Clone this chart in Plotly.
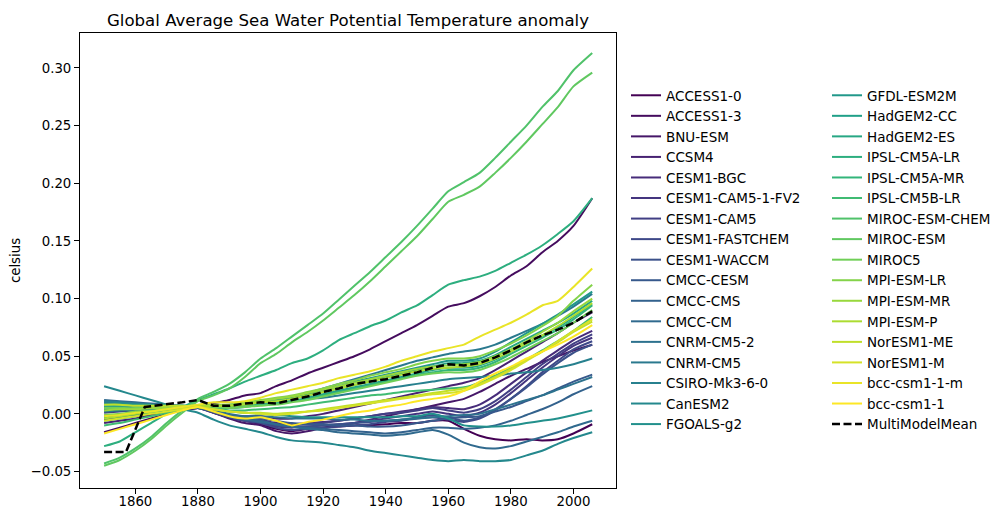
import plotly.graph_objects as go
from plotly.colors import sample_colorscale

# ---------------- data ----------------
YEARS = [1850, 1855, 1860, 1865, 1870, 1875, 1880, 1885, 1890, 1895, 1900, 1905, 1910, 1915, 1920, 1925,
         1930, 1935, 1940, 1945, 1950, 1955, 1960, 1965, 1970, 1975, 1980, 1985, 1990, 1995, 2000, 2006]

MODEL_NAMES = ["ACCESS1-0", "ACCESS1-3", "BNU-ESM", "CCSM4", "CESM1-BGC", "CESM1-CAM5-1-FV2", "CESM1-CAM5",
               "CESM1-FASTCHEM", "CESM1-WACCM", "CMCC-CESM", "CMCC-CMS", "CMCC-CM", "CNRM-CM5-2", "CNRM-CM5",
               "CSIRO-Mk3-6-0", "CanESM2", "FGOALS-g2", "GFDL-ESM2M", "HadGEM2-CC", "HadGEM2-ES",
               "IPSL-CM5A-LR", "IPSL-CM5A-MR", "IPSL-CM5B-LR", "MIROC-ESM-CHEM", "MIROC-ESM", "MIROC5",
               "MPI-ESM-LR", "MPI-ESM-MR", "MPI-ESM-P", "NorESM1-ME", "NorESM1-M", "bcc-csm1-1-m", "bcc-csm1-1"]

ACCESS1_0 = [-0.005, -0.003, -0.001, 0.001, 0.003, 0.004, 0.005, 0.001, -0.003, -0.006, -0.009, -0.013, -0.015, -0.013, -0.012, -0.011,
             -0.010, -0.010, -0.009, -0.008, -0.008, -0.006, -0.006, -0.013, -0.019, -0.022, -0.023, -0.022, -0.023, -0.022, -0.017, -0.009]
ACCESS1_3 = [-0.016, -0.012, -0.008, -0.004, 0.000, 0.003, 0.005, 0.009, 0.012, 0.016, 0.018, 0.024, 0.029, 0.035, 0.040, 0.045,
             0.050, 0.056, 0.063, 0.070, 0.077, 0.085, 0.093, 0.096, 0.102, 0.110, 0.120, 0.128, 0.140, 0.150, 0.163, 0.187]
BNU_ESM = [0.006, 0.006, 0.006, 0.006, 0.006, 0.006, 0.006, 0.001, -0.004, -0.008, -0.010, -0.015, -0.017, -0.015, -0.012, -0.010,
           -0.008, -0.005, -0.002, 0.001, 0.004, 0.007, 0.010, 0.013, 0.019, 0.026, 0.033, 0.039, 0.045, 0.050, 0.055, 0.060]
CCSM4 = [-0.008, -0.006, -0.004, -0.001, 0.001, 0.003, 0.005, 0.002, -0.001, -0.002, -0.002, -0.004, -0.004, -0.002, 0.000, 0.003,
         0.006, 0.009, 0.012, 0.015, 0.018, 0.021, 0.024, 0.027, 0.031, 0.038, 0.046, 0.054, 0.062, 0.070, 0.079, 0.088]
CESM1_BGC = [0.003, 0.003, 0.004, 0.004, 0.005, 0.005, 0.006, 0.002, -0.002, -0.004, -0.005, -0.008, -0.009, -0.008, -0.007, -0.006,
             -0.004, -0.002, 0.000, 0.002, 0.004, 0.006, 0.005, 0.004, 0.008, 0.016, 0.026, 0.036, 0.046, 0.055, 0.064, 0.072]
CESM1_CAM5_1_FV2 = [-0.002, -0.001, 0.001, 0.002, 0.003, 0.005, 0.006, 0.002, -0.003, -0.006, -0.008, -0.011, -0.012, -0.011, -0.010, -0.009,
                    -0.008, -0.006, -0.004, -0.002, 0.000, 0.002, 0.000, -0.002, 0.001, 0.008, 0.018, 0.029, 0.040, 0.050, 0.059, 0.066]
CESM1_CAM5 = [0.001, 0.002, 0.003, 0.004, 0.005, 0.005, 0.006, 0.003, -0.001, -0.004, -0.006, -0.009, -0.010, -0.009, -0.008, -0.006,
              -0.004, -0.002, 0.000, 0.001, 0.003, 0.005, 0.003, 0.001, 0.004, 0.011, 0.021, 0.032, 0.043, 0.052, 0.061, 0.069]
CESM1_FASTCHEM = [-0.004, -0.003, -0.001, 0.001, 0.003, 0.004, 0.005, 0.001, -0.003, -0.006, -0.008, -0.012, -0.014, -0.013, -0.012, -0.011,
                  -0.010, -0.009, -0.007, -0.006, -0.004, -0.003, -0.005, -0.007, -0.004, 0.003, 0.013, 0.024, 0.036, 0.046, 0.056, 0.063]
CESM1_WACCM = [0.004, 0.004, 0.005, 0.005, 0.005, 0.006, 0.006, 0.002, -0.002, -0.005, -0.007, -0.010, -0.011, -0.011, -0.010, -0.009,
               -0.008, -0.007, -0.006, -0.005, -0.003, -0.001, -0.003, -0.006, -0.003, 0.004, 0.013, 0.023, 0.034, 0.044, 0.053, 0.060]
CMCC_CESM = [0.010, 0.009, 0.008, 0.007, 0.006, 0.006, 0.005, 0.002, -0.001, -0.003, -0.004, -0.006, -0.008, -0.009, -0.009, -0.010,
             -0.010, -0.011, -0.011, -0.010, -0.008, -0.006, -0.004, -0.003, -0.002, 0.002, 0.006, 0.011, 0.016, 0.022, 0.028, 0.034]
CMCC_CMS = [0.008, 0.008, 0.007, 0.007, 0.006, 0.006, 0.005, 0.002, -0.002, -0.004, -0.006, -0.009, -0.011, -0.012, -0.013, -0.014,
            -0.015, -0.016, -0.017, -0.016, -0.014, -0.012, -0.012, -0.013, -0.012, -0.010, -0.006, -0.001, 0.004, 0.010, 0.017, 0.024]
CMCC_CM = [0.012, 0.011, 0.010, 0.009, 0.008, 0.007, 0.006, 0.002, -0.002, -0.005, -0.007, -0.009, -0.011, -0.013, -0.014, -0.016,
           -0.017, -0.018, -0.019, -0.018, -0.016, -0.014, -0.018, -0.025, -0.029, -0.030, -0.028, -0.024, -0.020, -0.016, -0.011, -0.006]
CNRM_CM5_2 = [0.006, 0.006, 0.006, 0.006, 0.006, 0.006, 0.006, 0.003, 0.000, -0.002, -0.002, -0.003, -0.004, -0.004, -0.004, -0.005,
              -0.005, -0.006, -0.006, -0.005, -0.004, -0.003, -0.002, -0.001, 0.000, 0.004, 0.008, 0.012, 0.016, 0.021, 0.026, 0.032]
CNRM_CM5 = [0.002, 0.003, 0.003, 0.004, 0.005, 0.006, 0.007, 0.007, 0.007, 0.008, 0.010, 0.012, 0.015, 0.018, 0.022, 0.026,
            0.030, 0.034, 0.038, 0.042, 0.046, 0.049, 0.052, 0.054, 0.056, 0.060, 0.066, 0.072, 0.078, 0.085, 0.093, 0.104]
CSIRO_MK3_6_0 = [0.011, 0.010, 0.009, 0.008, 0.007, 0.007, 0.006, 0.006, 0.006, 0.007, 0.008, 0.009, 0.011, 0.013, 0.014, 0.016,
                 0.018, 0.020, 0.022, 0.024, 0.026, 0.028, 0.030, 0.031, 0.032, 0.033, 0.035, 0.036, 0.038, 0.040, 0.043, 0.048]
CANESM2 = [0.024, 0.020, 0.016, 0.012, 0.008, 0.004, 0.001, -0.005, -0.010, -0.013, -0.016, -0.020, -0.023, -0.024, -0.025, -0.027,
           -0.029, -0.032, -0.034, -0.036, -0.038, -0.040, -0.041, -0.040, -0.041, -0.041, -0.040, -0.036, -0.032, -0.026, -0.021, -0.016]
FGOALS_G2 = [0.009, 0.009, 0.008, 0.008, 0.007, 0.007, 0.006, 0.004, 0.002, 0.001, 0.000, -0.001, -0.002, -0.003, -0.003, -0.003,
             -0.003, -0.003, -0.003, -0.002, -0.002, 0.000, -0.004, -0.010, -0.011, -0.011, -0.010, -0.008, -0.006, -0.004, -0.001, 0.003]
GFDL_ESM2M = [0.004, 0.004, 0.005, 0.005, 0.006, 0.006, 0.007, 0.007, 0.008, 0.009, 0.011, 0.012, 0.014, 0.017, 0.021, 0.024,
              0.028, 0.031, 0.034, 0.037, 0.040, 0.043, 0.046, 0.046, 0.048, 0.054, 0.062, 0.070, 0.078, 0.086, 0.095, 0.106]
HADGEM2_CC = [-0.003, -0.002, 0.000, 0.002, 0.003, 0.005, 0.006, 0.005, 0.005, 0.006, 0.008, 0.009, 0.011, 0.014, 0.017, 0.020,
              0.023, 0.026, 0.029, 0.032, 0.035, 0.038, 0.040, 0.040, 0.042, 0.047, 0.054, 0.061, 0.068, 0.075, 0.084, 0.095]
HADGEM2_ES = [-0.006, -0.004, -0.002, 0.001, 0.003, 0.005, 0.007, 0.007, 0.007, 0.008, 0.010, 0.011, 0.013, 0.016, 0.019, 0.022,
              0.025, 0.028, 0.032, 0.035, 0.038, 0.041, 0.044, 0.044, 0.046, 0.051, 0.058, 0.065, 0.072, 0.079, 0.087, 0.098]
IPSL_CM5A_LR = [-0.028, -0.024, -0.016, -0.008, 0.000, 0.006, 0.012, 0.017, 0.022, 0.028, 0.033, 0.038, 0.044, 0.048, 0.055, 0.064,
                0.070, 0.076, 0.081, 0.088, 0.094, 0.103, 0.112, 0.116, 0.119, 0.124, 0.131, 0.138, 0.146, 0.156, 0.167, 0.187]
IPSL_CM5A_MR = [0.007, 0.007, 0.007, 0.007, 0.007, 0.007, 0.007, 0.006, 0.006, 0.007, 0.008, 0.009, 0.011, 0.013, 0.016, 0.019,
                0.022, 0.025, 0.028, 0.031, 0.034, 0.036, 0.038, 0.038, 0.040, 0.045, 0.052, 0.059, 0.066, 0.073, 0.082, 0.094]
IPSL_CM5B_LR = [-0.010, -0.008, -0.005, -0.002, 0.001, 0.004, 0.006, 0.005, 0.003, 0.003, 0.004, 0.005, 0.006, 0.008, 0.010, 0.012,
                0.014, 0.016, 0.017, 0.019, 0.020, 0.021, 0.022, 0.023, 0.027, 0.033, 0.040, 0.047, 0.055, 0.063, 0.072, 0.084]
MIROC_ESM_CHEM = [-0.043, -0.038, -0.030, -0.020, -0.008, 0.003, 0.013, 0.019, 0.026, 0.036, 0.048, 0.057, 0.067, 0.077, 0.087, 0.099,
                  0.111, 0.123, 0.136, 0.149, 0.163, 0.178, 0.193, 0.201, 0.209, 0.222, 0.236, 0.250, 0.266, 0.280, 0.298, 0.313]
MIROC_ESM = [-0.045, -0.040, -0.032, -0.022, -0.010, 0.001, 0.011, 0.016, 0.022, 0.032, 0.044, 0.052, 0.062, 0.071, 0.081, 0.092,
             0.103, 0.115, 0.128, 0.141, 0.154, 0.169, 0.184, 0.190, 0.197, 0.209, 0.222, 0.236, 0.251, 0.266, 0.284, 0.296]
MIROC5 = [0.005, 0.005, 0.005, 0.006, 0.006, 0.006, 0.007, 0.006, 0.005, 0.006, 0.007, 0.008, 0.010, 0.012, 0.015, 0.018,
          0.021, 0.024, 0.027, 0.030, 0.033, 0.035, 0.036, 0.036, 0.038, 0.043, 0.049, 0.056, 0.063, 0.070, 0.079, 0.090]
MPI_ESM_LR = [-0.001, 0.000, 0.002, 0.003, 0.004, 0.006, 0.007, 0.008, 0.008, 0.010, 0.012, 0.014, 0.016, 0.019, 0.022, 0.026,
              0.029, 0.033, 0.036, 0.039, 0.043, 0.046, 0.048, 0.048, 0.050, 0.055, 0.061, 0.068, 0.076, 0.085, 0.098, 0.112]
MPI_ESM_MR = [0.003, 0.004, 0.004, 0.005, 0.005, 0.006, 0.007, 0.007, 0.007, 0.009, 0.011, 0.013, 0.015, 0.018, 0.021, 0.024,
              0.027, 0.030, 0.033, 0.036, 0.039, 0.041, 0.042, 0.043, 0.045, 0.050, 0.056, 0.063, 0.071, 0.079, 0.089, 0.100]
MPI_ESM_P = [-0.004, -0.002, 0.000, 0.002, 0.004, 0.005, 0.007, 0.007, 0.007, 0.008, 0.010, 0.011, 0.013, 0.016, 0.019, 0.022,
             0.025, 0.028, 0.031, 0.034, 0.037, 0.039, 0.040, 0.041, 0.043, 0.048, 0.054, 0.061, 0.068, 0.076, 0.085, 0.096]
NORESM1_ME = [0.008, 0.008, 0.007, 0.007, 0.007, 0.007, 0.006, 0.004, 0.002, 0.001, 0.001, 0.000, 0.001, 0.002, 0.004, 0.006,
              0.008, 0.010, 0.012, 0.014, 0.016, 0.018, 0.020, 0.022, 0.026, 0.032, 0.039, 0.047, 0.054, 0.062, 0.071, 0.080]
NORESM1_M = [-0.006, -0.004, -0.002, 0.000, 0.002, 0.004, 0.006, 0.004, 0.002, 0.001, 0.000, -0.001, 0.000, 0.002, 0.003, 0.005,
             0.007, 0.009, 0.011, 0.013, 0.015, 0.017, 0.018, 0.020, 0.025, 0.031, 0.038, 0.046, 0.054, 0.063, 0.072, 0.082]
BCC_CSM1_1_M = [-0.002, -0.001, 0.001, 0.002, 0.004, 0.006, 0.008, 0.010, 0.010, 0.011, 0.014, 0.018, 0.021, 0.024, 0.027, 0.031,
                0.034, 0.037, 0.041, 0.046, 0.050, 0.054, 0.057, 0.060, 0.067, 0.073, 0.079, 0.086, 0.094, 0.098, 0.110, 0.126]
BCC_CSM1_1 = [-0.017, -0.013, -0.009, -0.005, -0.001, 0.003, 0.006, 0.002, -0.002, -0.004, -0.003, -0.006, -0.010, -0.007, -0.005, -0.002,
              0.001, 0.003, 0.006, 0.008, 0.011, 0.013, 0.015, 0.020, 0.028, 0.035, 0.041, 0.048, 0.054, 0.060, 0.067, 0.077]

MEAN_YEARS = [1850, 1857, 1863, 1870, 1875, 1880, 1885, 1890, 1895, 1900, 1905, 1910, 1915, 1920, 1925, 1930,
              1935, 1940, 1945, 1950, 1955, 1960, 1965, 1970, 1975, 1980, 1985, 1990, 1995, 2000, 2006]
MULTI_MODEL_MEAN = [-0.033, -0.033, 0.006, 0.008, 0.010, 0.012, 0.007, 0.007, 0.009, 0.010, 0.009, 0.012, 0.015, 0.019, 0.022, 0.026,
                    0.028, 0.030, 0.033, 0.036, 0.040, 0.043, 0.042, 0.044, 0.049, 0.055, 0.062, 0.068, 0.073, 0.079, 0.089]

SERIES = [ACCESS1_0, ACCESS1_3, BNU_ESM, CCSM4, CESM1_BGC, CESM1_CAM5_1_FV2, CESM1_CAM5, CESM1_FASTCHEM,
          CESM1_WACCM, CMCC_CESM, CMCC_CMS, CMCC_CM, CNRM_CM5_2, CNRM_CM5, CSIRO_MK3_6_0, CANESM2, FGOALS_G2,
          GFDL_ESM2M, HADGEM2_CC, HADGEM2_ES, IPSL_CM5A_LR, IPSL_CM5A_MR, IPSL_CM5B_LR, MIROC_ESM_CHEM,
          MIROC_ESM, MIROC5, MPI_ESM_LR, MPI_ESM_MR, MPI_ESM_P, NORESM1_ME, NORESM1_M, BCC_CSM1_1_M, BCC_CSM1_1]

X_TICKS = [1860, 1880, 1900, 1920, 1940, 1960, 1980, 2000]
Y_TICKS = [-0.05, 0.00, 0.05, 0.10, 0.15, 0.20, 0.25, 0.30]

# ---------------- styling ----------------
FONT = "DejaVu Sans"
n = len(MODEL_NAMES)
colors = sample_colorscale("Viridis", [i / (n - 1) for i in range(n)])

fig = go.Figure()
for i, (name, vals) in enumerate(zip(MODEL_NAMES, SERIES)):
    fig.add_trace(go.Scatter(
        x=YEARS, y=vals, name=name, mode="lines",
        line=dict(color=colors[i], width=2, shape="spline", smoothing=0.6),
        legend="legend" if i < 17 else "legend2",
    ))

fig.add_trace(go.Scatter(
    x=MEAN_YEARS, y=MULTI_MODEL_MEAN, name="MultiModelMean", mode="lines",
    line=dict(color="black", width=2.5, dash="8px,3.5px"),
    legend="legend2",
))

axis_common = dict(
    showline=True, linecolor="black", linewidth=1, mirror=True,
    ticks="outside", ticklen=5, tickwidth=1, tickcolor="black",
    showgrid=False, zeroline=False, automargin=False,
    tickfont=dict(family=FONT, size=13.3, color="black"),
)

legend_common = dict(
    font=dict(family=FONT, size=13.5, color="black"),
    bgcolor="rgba(0,0,0,0)", borderwidth=0,
    xanchor="left", yanchor="top", orientation="v",
    tracegroupgap=0,
)

fig.update_layout(
    width=995, height=510,
    margin=dict(l=80, r=379, t=33, b=22, autoexpand=False),
    paper_bgcolor="white", plot_bgcolor="white",
    title=dict(text="Global Average Sea Water Potential Temperature anomaly",
               font=dict(family=FONT, size=16.6, color="black"),
               x=0.5, xref="paper", xanchor="center", y=1 - 20 / 510, yanchor="middle"),
    xaxis=dict(range=[1842.3, 2013.6], tickvals=X_TICKS, ticklabelstandoff=-4, **axis_common),
    yaxis=dict(range=[-0.0643, 0.3303], tickvals=Y_TICKS, tickformat=".2f",
               title=dict(text="celsius", font=dict(family=FONT, size=13.3, color="black"), standoff=6),
               **axis_common),
    showlegend=True,
    legend=dict(x=(626 - 80) / 536, y=1 - (80 - 33) / 455, **legend_common),
    legend2=dict(x=(827 - 80) / 536, y=1 - (80 - 33) / 455, **legend_common),
)

fig.write_html("out.html")
